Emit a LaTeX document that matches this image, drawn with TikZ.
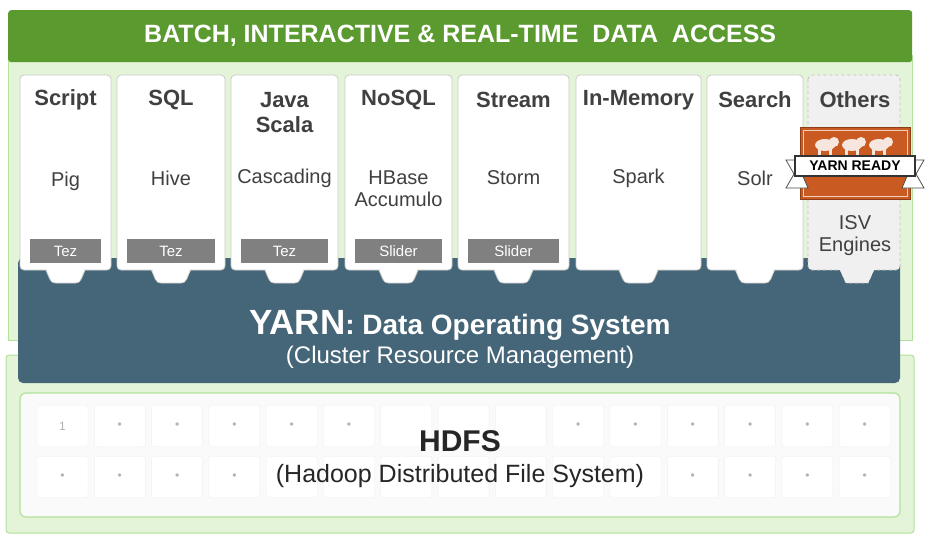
\documentclass[tikz,border=0pt]{standalone}
\usepackage{fontspec}
\setmainfont{Liberation Sans}
\begin{document}
\begin{tikzpicture}[x=1pt,y=-1pt,
  col/.style={draw=gray!40,fill=white,rounded corners=4pt,line width=0.8pt},
  tez/.style={fill=gray!75!black!80,text=white,font=\fontsize{15}{16}\selectfont,minimum height=24pt,inner sep=0pt},
  cell/.style={draw=gray!12,fill=white,rounded corners=2pt,minimum width=51pt,minimum height=41pt,text=gray!60,font=\fontsize{12}{12}\selectfont},
  hd/.style={font=\bfseries\fontsize{22}{25}\selectfont,text=black!75,align=center},
  bd/.style={font=\fontsize{20}{22}\selectfont,text=black!75,align=center}]
\definecolor{dgreen}{HTML}{5A9A2E}
\definecolor{lgreen}{HTML}{E3F4D9}
\definecolor{bgreen}{HTML}{B3E29A}
\definecolor{yblue}{HTML}{456678}
\definecolor{orng}{HTML}{C85A22}
\useasboundingbox (0,0) rectangle (938,547);
\fill[white] (0,0) rectangle (938,547);
% panels
\draw[bgreen,fill=lgreen,line width=1pt] (8,55) rectangle (912,340);
\draw[bgreen,fill=lgreen,line width=1pt,rounded corners=3pt] (6,355) rectangle (914,533);
\node[fill=dgreen,rounded corners=3pt,minimum width=904pt,minimum height=52pt,anchor=north west,text=white,font=\bfseries\fontsize{25}{27}\selectfont] (top) at (8,10) {BATCH, INTERACTIVE \& REAL-TIME\ \ DATA\ \ ACCESS};
% HDFS
\draw[bgreen,fill=gray!4,line width=1.2pt,rounded corners=6pt] (20,393) rectangle (900,517);
\foreach \i in {0,...,14}{
  \pgfmathtruncatemacro\mA{(\i>=6 && \i<=8) ? 1 : 0}
  \pgfmathtruncatemacro\mB{(\i>=4 && \i<=10) ? 1 : 0}
  \node[cell] (c1\i) at (62.5+57.3*\i,426) {\ifnum\i=0 1\else\ifnum\mA=0 \textbullet\fi\fi};
  \node[cell] (c2\i) at (62.5+57.3*\i,477) {\ifnum\mB=0 \textbullet\fi};
}
\node[font=\bfseries\fontsize{30}{32}\selectfont,text=black!85] (hdfs) at (460,441) {HDFS};
\node[font=\fontsize{25}{27}\selectfont,text=black!85] (hdfs2) at (460,476) {(Hadoop Distributed File System)};
% YARN
\fill[yblue,rounded corners=5pt] (18,258) rectangle (900,383);
\node[text=white] (yarn) at (460,325) {\bfseries\fontsize{35}{37}\selectfont YARN\fontsize{28}{30}\selectfont: Data Operating System};
\node[text=white,font=\fontsize{24}{26}\selectfont] (yarn2) at (460,357) {(Cluster Resource Management)};
% columns
\foreach \a/\b/\h/\hy/\t/\ty/\e [count=\k] in {
  20/111/Script/100/Pig/181/Tez,
  117/225/SQL/100/Hive/178/Tez,
  231/338/{Java\\Scala}/113/Cascading/178/Tez,
  345/452/NoSQL/100/{HBase\\Accumulo}/189/Slider,
  458/569/Stream/100/Storm/178/Slider,
  576/701/In-Memory/100/Spark/178/none,
  707/803/Search/100/Solr/178/none}{
  \draw[col] ({(\a+\b)/2-20},269) -- ({(\a+\b)/2-14},283) -- ({(\a+\b)/2+14},283) -- ({(\a+\b)/2+20},269);
  \draw[col] (\a,75) rectangle (\b,270);
  \fill[white] ({(\a+\b)/2-19},268) -- ({(\a+\b)/2-13.5},282) -- ({(\a+\b)/2+13.5},282) -- ({(\a+\b)/2+19},268) -- cycle;
  \node[hd] (h\k) at ({(\a+\b)/2},\hy) {\h};
  \node[bd] (t\k) at ({(\a+\b)/2},\ty) {\t};
  \ifnum\k<6
  \node[tez,minimum width={\b-\a-20}] (e\k) at ({(\a+\b)/2},251) {\e};\fi
}
% others
\draw[gray!50,fill=gray!12,dashed,line width=0.8pt] (840,269) -- (846,283) -- (868,283) -- (874,269);
\draw[gray!50,fill=gray!12,dashed,rounded corners=4pt,line width=0.8pt] (808,75) rectangle (900,270);
\fill[gray!12] (839,268) -- (845.5,282) -- (868.5,282) -- (875,268) -- cycle;
\node[hd] (h8) at (855,100) {Others};
\node[bd] (t8) at (855,236) {ISV\\Engines};
% badge
\node[fill=orng,draw=orng!70!black,minimum width=110pt,minimum height=72pt,inner sep=0pt] (badge) at (855,163) {};
\draw[white!70!orng,line width=0.8pt] (803,130) rectangle (907,196);
\foreach \ex in {825,852,879}{
  \fill[white!85!orng] (\ex,145) ellipse (10pt and 6pt);
  \fill[white!85!orng] (\ex+9,142) circle (5pt);
  \fill[white!85!orng] (\ex-7,148) rectangle (\ex-4,155);
  \fill[white!85!orng] (\ex+4,148) rectangle (\ex+7,155);
}
\draw[black!70,fill=white,line width=0.8pt] (796,160) -- (786,160) -- (794,174) -- (786,188) -- (808,188) -- cycle;
\draw[black!70,fill=white,line width=0.8pt] (914,160) -- (924,160) -- (916,174) -- (924,188) -- (902,188) -- cycle;
\node[draw=black!80,fill=white,line width=1.2pt,font=\bfseries\fontsize{14}{15}\selectfont,minimum width=120pt,minimum height=20pt,inner sep=0pt] (ready) at (855,166) {YARN READY};
\end{tikzpicture}
\end{document}
